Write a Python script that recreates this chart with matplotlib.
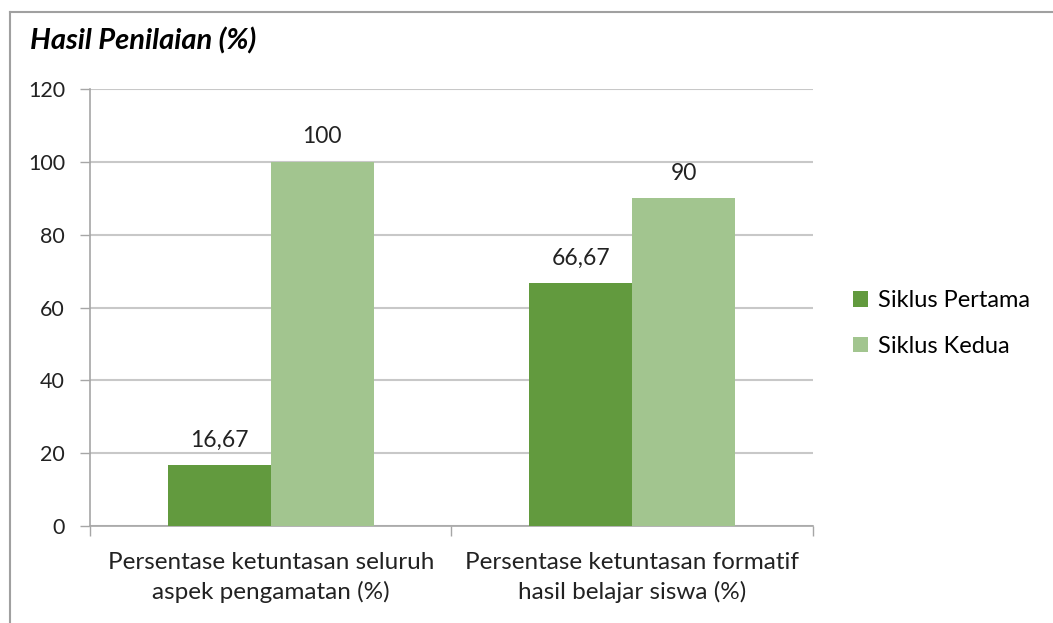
import numpy as np
from matplotlib import pyplot as plt
from matplotlib.lines import Line2D

categories = ['Persentase ketuntasan seluruh\naspek pengamatan (%)',
              'Persentase ketuntasan formatif\nhasil belajar siswa (%)']
siklus1 = [16.67, 66.67]
siklus2 = [100, 90]
series_names = ['Siklus Pertama', 'Siklus Kedua']
yticks = [0, 20, 40, 60, 80, 100, 120]

plt.rcParams['font.family'] = ['Lato', 'DejaVu Sans']
dark = '#629a3e'
light = '#a2c58f'
gray = '#a6a6a6'
txt = '#222222'

fig = plt.figure(figsize=(10.53, 6.23), dpi=100)
ax = fig.add_axes([0.0855, 0.1557, 0.6865, 0.7013])

x = np.arange(len(categories))
w = 0.285
b1 = ax.bar(x - w / 2, siklus1, w, color=dark, label=series_names[0], zorder=3)
b2 = ax.bar(x + w / 2, siklus2, w, color=light, label=series_names[1], zorder=3)

def fmt(v):
    return ('%g' % v).replace('.', ',')

for bars, vals in ((b1, siklus1), (b2, siklus2)):
    for r, v in zip(bars, vals):
        ax.text(r.get_x() + r.get_width() / 2, v + 4, fmt(v), ha='center',
                va='bottom', fontsize=16.5, color=txt)

ax.set_xlim(-0.5, 1.5)
ax.set_ylim(0, 120)
ax.set_yticks(yticks)
ax.set_yticklabels([str(t) for t in yticks], fontsize=15.5, color=txt)
ax.yaxis.grid(True, color='#c8c8c8', linewidth=1.5, zorder=0)
ax.tick_params(axis='y', length=7, color=gray, width=1, pad=11)
ax.tick_params(axis='x', length=0, pad=19)
ax.set_xticks(x)
ax.set_xticklabels(categories, fontsize=17.5, color=txt, linespacing=1.4)
# category separators
ax.set_xticks([-0.5, 0.5, 1.5], minor=True)
ax.tick_params(axis='x', which='minor', length=7, color=gray, width=1)

for s in ('top', 'right'):
    ax.spines[s].set_visible(False)
ax.spines['left'].set_color(gray)
ax.spines['bottom'].set_color(gray)
ax.spines['left'].set_linewidth(1.2)
ax.spines['bottom'].set_linewidth(1.2)

fig.legend(handles=[b1, b2], loc='center left', bbox_to_anchor=(0.81, 0.481),
           frameon=False, fontsize=17, handlelength=0.65, handleheight=0.65,
           labelspacing=1.05, handletextpad=0.4, borderpad=0, borderaxespad=0)

fig.text(0.0285, 0.935, 'Hasil Penilaian (%)', fontsize=21, fontweight='bold',
         style='italic', va='center', ha='left')

# outer chart frame
fig.add_artist(Line2D([0.0095, 0.0095], [0, 0.981], color='#a0a0a0', lw=1.5))
fig.add_artist(Line2D([0.0095, 1], [0.981, 0.981], color='#a0a0a0', lw=1.5))

fig.savefig('out.png', dpi=100)
